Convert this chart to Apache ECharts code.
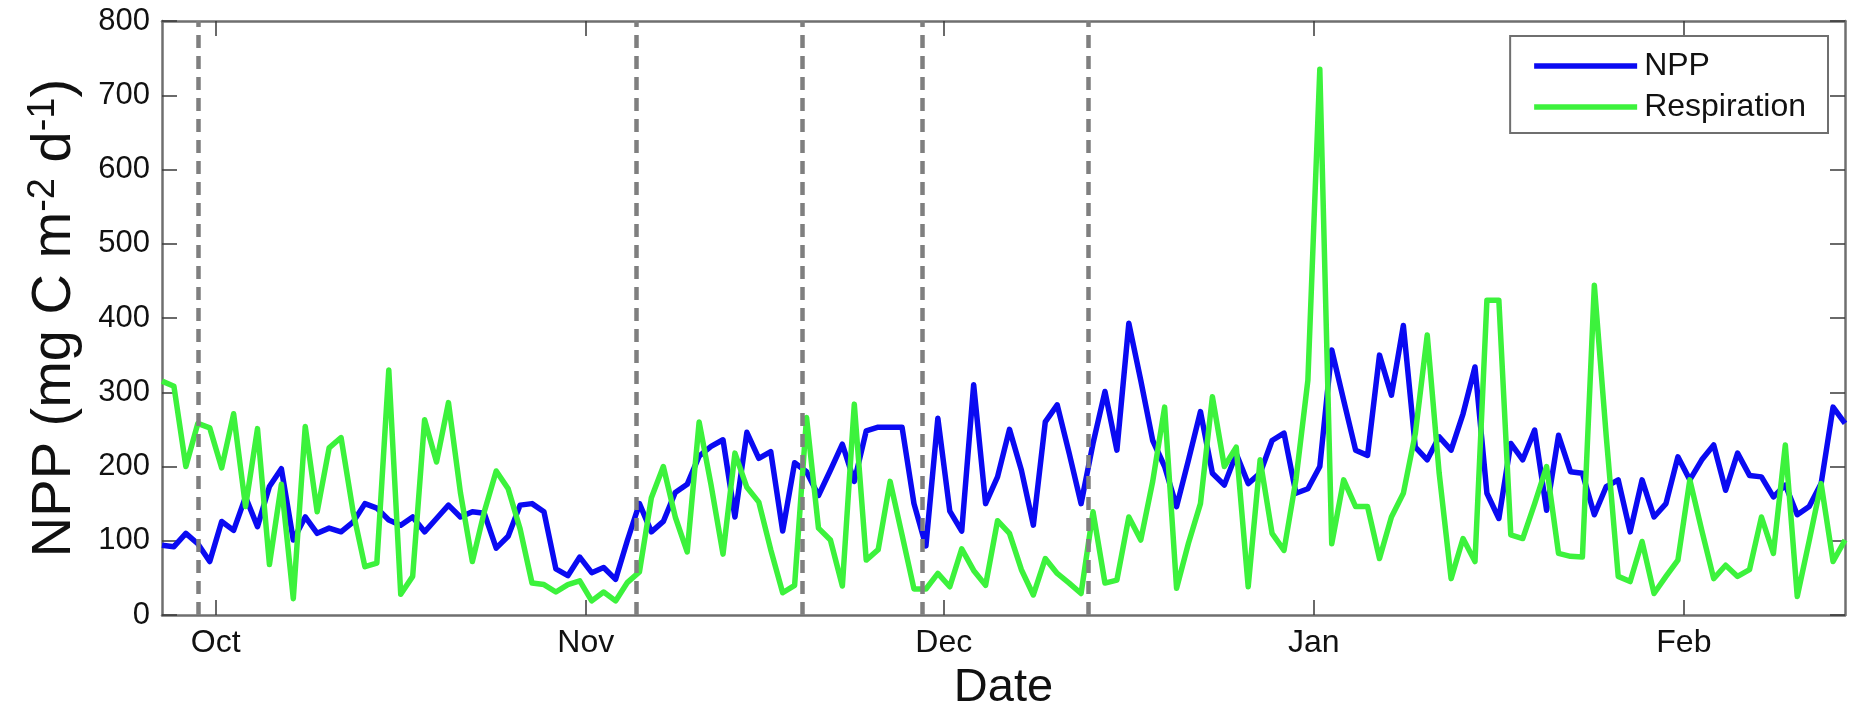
<!DOCTYPE html>
<html>
<head>
<meta charset="utf-8">
<script src="https://cdn.jsdelivr.net/npm/echarts@6/dist/echarts.min.js"></script>
<style>
  html, body { margin: 0; padding: 0; background: #ffffff; }
  #chart { width: 1851px; height: 711px; }
</style>
</head>
<body>
<div id="chart"></div>
<script>
// Daily values, one per day starting Sep 26 (noon); x is measured in days from Oct 1.
const firstDay = -4.5;

const npp = [
  94, 92, 110, 96, 72, 126, 114, 159, 119, 173,
  197, 101, 132, 110, 117, 112, 125, 150, 144, 128,
  121, 132, 112, 130, 148, 132, 139, 137, 90, 106,
  148, 150, 139, 62, 53, 78, 57, 64, 48, 101,
  150, 112, 126, 165, 176, 214, 227, 236, 132, 246,
  211, 220, 113, 205, 193, 161, 195, 230, 180, 248,
  253, 253, 253, 150, 93, 265, 140, 113, 310, 150,
  186, 250, 195, 121, 260, 283, 218, 150, 231, 301,
  222, 393, 316, 235, 200, 146, 209, 274, 191, 175,
  217, 177, 191, 235, 245, 164, 170, 200, 357, 289,
  222, 215, 350, 296, 390, 226, 209, 240, 222, 271,
  334, 164, 130, 231, 209, 249, 141, 242, 193, 191,
  135, 173, 182, 112, 182, 132, 150, 213, 182, 209,
  229, 168, 218, 188, 186, 159, 175, 135, 146, 177,
  280, 258
];

const respiration = [
  315, 308, 200, 258, 252, 198, 271, 146, 251, 68,
  176, 22, 254, 139, 225, 239, 140, 65, 70, 330,
  28, 52, 263, 206, 286, 165, 72, 139, 194, 170,
  116, 43, 41, 31, 41, 46, 19, 31, 19, 44,
  58, 158, 200, 132, 85, 260, 175, 82, 218, 172,
  152, 88, 30, 40, 266, 117, 101, 39, 284, 74,
  88, 180, 108, 35, 35, 56, 38, 89, 60, 40,
  127, 110, 61, 27, 76, 56, 43, 29, 139, 43,
  47, 132, 101, 180, 280, 36, 97, 150, 294, 200,
  226, 38, 209, 110, 87, 182, 316, 735, 96, 182,
  146, 146, 76, 132, 164, 244, 377, 191, 49, 103,
  72, 424, 424, 108, 103, 150, 200, 83, 79, 78,
  444, 240, 52, 45, 99, 29, 52, 74, 182, 114,
  49, 67, 52, 61, 132, 83, 229, 25, 100, 177,
  72, 101
];

// Month starts (days from Oct 1) and their labels
const monthStarts = [0, 31, 61, 92, 123];
const monthLabels = ['Oct', 'Nov', 'Dec', 'Jan', 'Feb'];

// Event dates marked with dashed lines (days from Oct 1)
const eventDays = [-1.5, 35.2, 49.1, 59.2, 73.1];

const yTicks = [0, 100, 200, 300, 400, 500, 600, 700, 800];

const FONT = '"Liberation Sans", Arial, Helvetica, sans-serif';
const AXIS_GREY = '#6f6f6f';
const TICK_COLOR = '#3a3a3a';
const NPP_BLUE = '#0a0af2';
const RESP_GREEN = '#3cf23c';

function toPairs(values) {
  return values.map((v, i) => [firstDay + i, v]);
}

const xMin = firstDay;
const xMax = firstDay + npp.length - 1;

const chart = echarts.init(document.getElementById('chart'), null, { renderer: 'canvas' });

const baseXAxis = {
  type: 'value',
  min: xMin,
  max: xMax,
  axisLine: { show: true, onZero: false, lineStyle: { color: AXIS_GREY, width: 2.5 } },
  axisTick: {
    show: true, inside: true, length: 15,
    customValues: monthStarts,
    lineStyle: { color: TICK_COLOR, width: 1.5 }
  },
  splitLine: { show: false },
  minorTick: { show: false }
};

const baseYAxis = {
  type: 'value',
  min: 0,
  max: 800,
  interval: 100,
  axisLine: { show: true, onZero: false, lineStyle: { color: AXIS_GREY, width: 2.5 } },
  axisTick: { show: true, inside: true, length: 15, lineStyle: { color: TICK_COLOR, width: 1.5 } },
  splitLine: { show: false }
};

const option = {
  animation: false,
  backgroundColor: '#ffffff',
  textStyle: { fontFamily: FONT },
  grid: { left: 162, right: 6, top: 21, bottom: 96, containLabel: false, outerBoundsMode: 'none' },
  legend: {
    orient: 'vertical',
    right: 23,
    top: 36,
    padding: [14, 22, 10, 24],
    itemWidth: 103,
    itemHeight: 5.5,
    itemGap: 9,
    icon: 'rect',
    backgroundColor: '#ffffff',
    borderColor: AXIS_GREY,
    borderWidth: 2,
    borderRadius: 0,
    textStyle: { fontFamily: FONT, fontSize: 32, lineHeight: 32, color: '#111111', padding: [0, 0, 0, 2] },
    data: ['NPP', 'Respiration']
  },
  xAxis: [
    Object.assign({}, baseXAxis, {
      position: 'bottom',
      name: 'Date',
      nameLocation: 'middle',
      nameGap: 44,
      nameTextStyle: { fontFamily: FONT, fontSize: 47, lineHeight: 47, color: '#111111' },
      axisLabel: {
        show: true,
        customValues: monthStarts,
        margin: 11,
        fontFamily: FONT,
        fontSize: 32,
        lineHeight: 34,
        color: '#111111',
        formatter: function (v) {
          const k = monthStarts.indexOf(Math.round(v));
          return k >= 0 ? monthLabels[k] : '';
        }
      }
    }),
    Object.assign({}, baseXAxis, {
      position: 'top',
      axisLabel: { show: false }
    })
  ],
  yAxis: [
    Object.assign({}, baseYAxis, {
      position: 'left',
      name: '{n|NPP (mg C m}{s|-2}{n| d}{s|-1}{n|)}',
      nameLocation: 'middle',
      nameRotate: 90,
      nameGap: 77,
      nameTextStyle: {
        fontFamily: FONT,
        color: '#111111',
        rich: {
          n: { fontFamily: FONT, fontSize: 56, lineHeight: 60, color: '#111111' },
          s: { fontFamily: FONT, fontSize: 38, lineHeight: 38, color: '#111111', verticalAlign: 'top' }
        }
      },
      axisLabel: {
        show: true,
        margin: 12,
        fontFamily: FONT,
        fontSize: 31,
        color: '#111111',
        customValues: yTicks
      }
    }),
    Object.assign({}, baseYAxis, {
      position: 'right',
      axisLabel: { show: false }
    })
  ],
  series: [
    {
      name: 'NPP',
      type: 'line',
      xAxisIndex: 0,
      yAxisIndex: 0,
      data: toPairs(npp),
      showSymbol: false,
      symbol: 'none',
      color: NPP_BLUE,
      lineStyle: { color: NPP_BLUE, width: 5.5, join: 'round' },
      z: 2
    },
    {
      name: 'Respiration',
      type: 'line',
      xAxisIndex: 0,
      yAxisIndex: 0,
      data: toPairs(respiration),
      showSymbol: false,
      symbol: 'none',
      color: RESP_GREEN,
      lineStyle: { color: RESP_GREEN, width: 5.5, join: 'round' },
      z: 3
    },
    {
      name: 'events',
      type: 'line',
      xAxisIndex: 0,
      yAxisIndex: 0,
      data: [],
      silent: true,
      z: 4,
      markLine: {
        silent: true,
        symbol: ['none', 'none'],
        label: { show: false },
        lineStyle: { color: '#7f7f7f', width: 4.5, type: [13, 8] },
        data: eventDays.map(d => ({ xAxis: d }))
      }
    }
  ]
};

chart.setOption(option);
</script>
</body>
</html>
